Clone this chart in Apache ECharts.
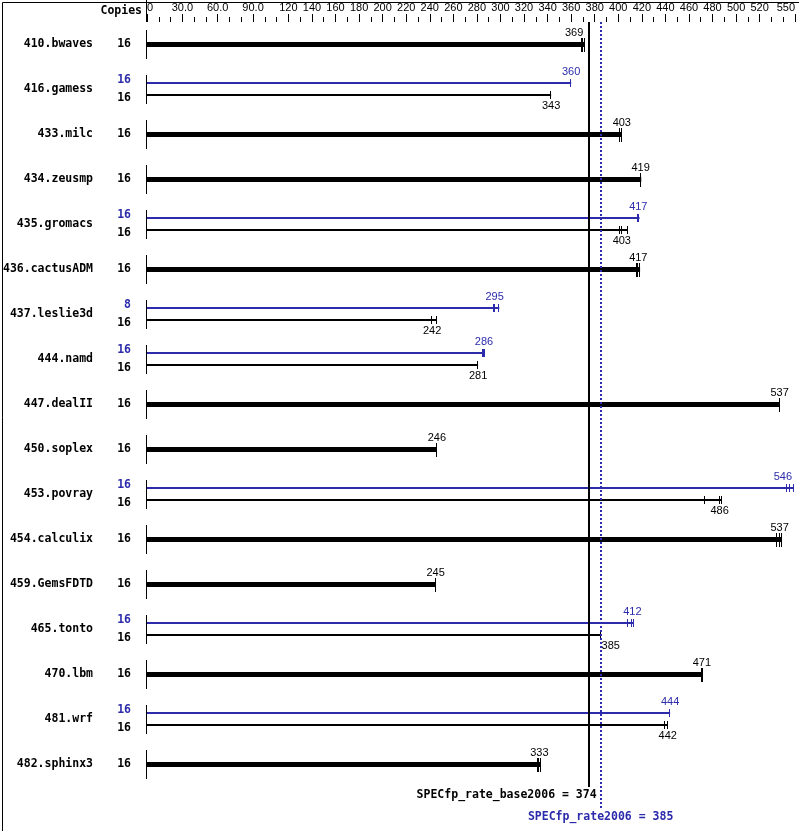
<!DOCTYPE html>
<html><head><meta charset="utf-8">
<script src="https://cdn.jsdelivr.net/npm/echarts@6/dist/echarts.min.js"></script>
<style>html,body{margin:0;padding:0;background:#fff}#c{width:799px;height:831px}</style>
</head><body><div id="c"></div>
<script>
// ---- data ----
const benchmarks = ['410.bwaves','416.gamess','433.milc','434.zeusmp','435.gromacs','436.cactusADM','437.leslie3d','444.namd','447.dealII','450.soplex','453.povray','454.calculix','459.GemsFDTD','465.tonto','470.lbm','481.wrf','482.sphinx3'];
const baseCopies = [16,16,16,16,16,16,16,16,16,16,16,16,16,16,16,16,16];
const peakCopies = [null,16,null,null,16,null,8,16,null,null,16,null,null,16,null,16,null];
const baseRatio = [369,343,403,419,403,417,242,281,537,246,486,537,245,385,471,442,333];
const peakRatio = [null,360,null,null,417,null,295,286,null,null,546,null,null,412,null,444,null];
const baseRuns = [[369,370,371.5],[343,343,343],[401.5,403,403],[419,419,419.5],[401.5,403,408],[416,417,418.5],[242,242,246],[281,281,281],[537,537,537],[246,246,246],[474,486,488],[535,537,539],[245,245,245],[385,385,385],[471,471,471.5],[440,442,442],[332,333,334]];
const peakRuns = [null,[360,360,360],null,null,[416.5,417,418],null,[294.5,295,299],[285,286,286.5],null,null,[543,546,549],null,null,[408,412,413],null,[444,444,444],null];
const summaryBase = 374;
const summaryPeak = 385;
const summaryBaseText = 'SPECfp_rate_base2006 = 374';
const summaryPeakText = 'SPECfp_rate2006 = 385';
const majorTickValues = [0,30,60,90,120,140,160,180,200,220,240,260,280,300,320,340,360,380,400,420,440,460,480,500,520,550];
const majorTickLabels = ['0','30.0','60.0','90.0','120','140','160','180','200','220','240','260','280','300','320','340','360','380','400','420','440','460','480','500','520','550'];
const minorTickValues = [];
for (let v = 10; v < 550; v += 10) if (majorTickValues.indexOf(v) < 0) minorTickValues.push(v);

// ---- styles ----
const BLUE = '#2b2bab';
const MONO = '"DejaVu Sans Mono", "Liberation Mono", monospace';
const SANS = '"Liberation Sans", Arial, sans-serif';
const monoFont = 'bold 11.5px ' + MONO;
const valFont = '11px ' + SANS;

const mctx = document.createElement('canvas').getContext('2d');
function textW(t, f) { mctx.font = f; return mctx.measureText(t).width; }

const chart = echarts.init(document.getElementById('c'), null, {renderer: 'canvas'});

function labelX(value, cx, w, lines, gridRight) {
  let l = cx - w / 2, r = cx + w / 2;
  let align = 'center', x = cx;
  for (const ln of lines) {
    if (r > ln.x0 && l < ln.x1) {
      if (value < ln.v) { align = 'right'; x = cx + 1.5; }
      else { align = 'left'; x = cx + 1; }
      break;
    }
  }
  if (align === 'center' && r > gridRight - 3) { align = 'right'; x = gridRight - 3; }
  return {x, align};
}

function renderRow(params, api) {
  const i = api.value(1);
  const o = api.coord([0, i]);
  const x0 = o[0];
  const yc = Math.floor(o[1]);
  const cs = params.coordSys;
  const gridRight = cs.x + cs.width;
  const lines = [
    {v: summaryBase, x0: api.coord([summaryBase, 0])[0] - 1, x1: api.coord([summaryBase, 0])[0] + 2},
    {v: summaryPeak, x0: api.coord([summaryPeak, 0])[0] - 1, x1: api.coord([summaryPeak, 0])[0] + 2}
  ];
  const ch = [];
  ch.push({type: 'rect', shape: {x: x0 - 1, y: yc - 14, width: 1, height: 29}, style: {fill: '#000'}});
  const bars = [];
  if (peakRatio[i] == null) {
    bars.push({val: baseRatio[i], runs: baseRuns[i], y: yc, thick: true, color: '#000', ly: yc - 11, copies: baseCopies[i], cy: yc});
  } else {
    bars.push({val: peakRatio[i], runs: peakRuns[i], y: yc - 6, thick: false, color: BLUE, ly: yc - 17, copies: peakCopies[i], cy: yc - 9});
    bars.push({val: baseRatio[i], runs: baseRuns[i], y: yc + 6, thick: false, color: '#000', ly: yc + 17, copies: baseCopies[i], cy: yc + 9});
  }
  for (const b of bars) {
    const maxRun = Math.max.apply(null, b.runs);
    const xe = api.coord([maxRun, i])[0];
    if (b.thick) {
      ch.push({type: 'rect', shape: {x: x0, y: b.y - 2, width: xe - x0, height: 5}, style: {fill: b.color}});
    } else {
      ch.push({type: 'rect', shape: {x: x0, y: b.y - 1, width: xe - x0, height: 2}, style: {fill: b.color}});
    }
    for (const r of b.runs) {
      const xr = Math.round(api.coord([r, i])[0]) - 1;
      if (b.thick) ch.push({type: 'rect', shape: {x: xr, y: b.y - 6, width: 1, height: 14}, style: {fill: b.color}});
      else ch.push({type: 'rect', shape: {x: xr, y: b.y - 4, width: 1, height: 8}, style: {fill: b.color}});
    }
    const cx = api.coord([b.val, i])[0];
    const txt = String(b.val);
    const lp = labelX(b.val, cx, textW(txt, valFont), lines, gridRight);
    ch.push({type: 'text', x: lp.x, y: b.ly, style: {text: txt, font: valFont, fill: b.color, align: lp.align, verticalAlign: 'middle'}});
    ch.push({type: 'text', x: x0 - 16, y: b.cy, style: {text: String(b.copies), font: monoFont, fill: b.color, align: 'right', verticalAlign: 'middle'}});
  }
  return {type: 'group', children: ch};
}

function renderSummary(params, api) {
  const cs = params.coordSys;
  const top = cs.y, bottom = cs.y + cs.height;
  const xb = api.coord([summaryBase, 0])[0];
  const xp = api.coord([summaryPeak, 0])[0];
  const ch = [];
  ch.push({type: 'rect', shape: {x: Math.round(xb), y: top, width: 2, height: cs.height}, style: {fill: '#000'}});
  ch.push({type: 'line', shape: {x1: Math.floor(xp) + 1, y1: top, x2: Math.floor(xp) + 1, y2: bottom + 21}, style: {stroke: BLUE, lineWidth: 2, lineDash: [2, 2]}});
  ch.push({type: 'text', x: xp - 4, y: bottom + 8, style: {text: summaryBaseText, font: monoFont, fill: '#000', align: 'right', verticalAlign: 'middle'}});
  ch.push({type: 'text', x: xp, y: bottom + 30, style: {text: summaryPeakText, font: monoFont, fill: BLUE, align: 'center', verticalAlign: 'middle'}});
  return {type: 'group', children: ch};
}

const option = {
  animation: false,
  backgroundColor: '#fff',
  grid: {left: 147, right: 4, top: 22, bottom: 44, containLabel: false},
  xAxis: [
    {type: 'value', position: 'top', min: 0, max: 550,
     axisLine: {show: false}, splitLine: {show: false},
     axisTick: {show: true, length: 5, customValues: minorTickValues, lineStyle: {color: '#000', width: 1}},
     axisLabel: {show: false}},
    {type: 'value', position: 'top', min: 0, max: 550,
     axisLine: {show: false}, splitLine: {show: false},
     axisTick: {show: true, length: 8, customValues: majorTickValues, lineStyle: {color: '#000', width: 1}},
     axisLabel: {show: true, customValues: majorTickValues, margin: 9, color: '#000', fontSize: 11, fontFamily: SANS,
       alignMinLabel: 'left', alignMaxLabel: 'right', hideOverlap: false,
       formatter: function (v) { const k = majorTickValues.indexOf(v); return k >= 0 ? majorTickLabels[k] : ''; }}}
  ],
  yAxis: {type: 'category', inverse: true, data: benchmarks,
    axisLine: {show: false}, axisTick: {show: false}, splitLine: {show: false},
    axisLabel: {margin: 54, color: '#000', fontSize: 11.5, fontWeight: 'bold', fontFamily: MONO}},
  graphic: [
    {type: 'rect', left: 0, top: 0, shape: {x: 0.5, y: 0.5, width: 798, height: 830}, style: {fill: 'none', stroke: '#000', lineWidth: 1}, z: 100},
    {type: 'line', shape: {x1: 146.5, y1: 0, x2: 146.5, y2: 22}, style: {stroke: '#000', lineWidth: 1}},
    {type: 'text', x: 142, y: 11, style: {text: 'Copies', font: monoFont, fill: '#000', align: 'right', verticalAlign: 'middle'}}
  ],
  series: [
    {type: 'custom', xAxisIndex: 0, yAxisIndex: 0, renderItem: renderRow, clip: false,
     data: benchmarks.map((b, i) => [0, i]), z: 2},
    {type: 'custom', xAxisIndex: 0, yAxisIndex: 0, renderItem: renderSummary, clip: false,
     data: [[summaryBase, 0]], z: 5}
  ]
};
chart.setOption(option);
</script></body></html>
